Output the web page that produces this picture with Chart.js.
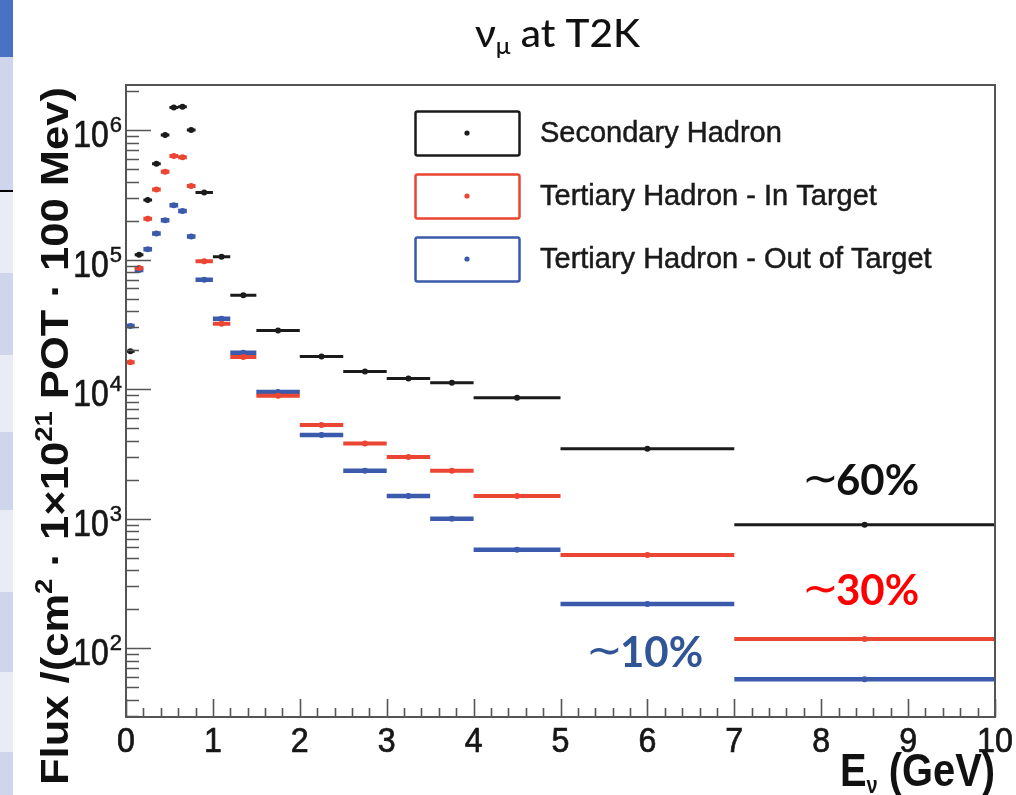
<!DOCTYPE html>
<html>
<head>
<meta charset="utf-8">
<script src="https://cdn.jsdelivr.net/npm/chart.js@4.4.1/dist/chart.umd.min.js"></script>
<style>
html, body { margin:0; padding:0; background:#fff; }
#wrap { position:relative; width:1016px; height:795px; }
</style>
</head>
<body>
<div id="wrap"><canvas id="flux" width="1016" height="795"></canvas></div>
<script>
// energy bins (GeV)
var binLo = [0, 0.1, 0.2, 0.3, 0.4, 0.5, 0.6, 0.7, 0.8, 1.0, 1.2, 1.5, 2.0, 2.5, 3.0, 3.5, 4.0, 5.0, 7.0];
var binHi = [0.1, 0.2, 0.3, 0.4, 0.5, 0.6, 0.7, 0.8, 1.0, 1.2, 1.5, 2.0, 2.5, 3.0, 3.5, 4.0, 5.0, 7.0, 10.0];

// flux per bin
var secondary   = [1.96e4, 1.09e5, 2.88e5, 5.5e5, 9.15e5, 1.49e6, 1.51e6, 1.0e6, 3.3e5, 1.05e5, 5.3e4, 2.84e4, 1.79e4, 1.37e4, 1.21e4, 1.12e4, 8.6e3, 3.47e3, 898];
var tertiaryIn  = [1.61e4, 8.6e4, 2.07e5, 3.48e5, 4.76e5, 6.3e5, 6.15e5, 3.69e5, 9.7e4, 3.2e4, 1.77e4, 8.9e3, 5.3e3, 3.8e3, 2.99e3, 2.35e3, 1.5e3, 526, 118];
var tertiaryOut = [3.07e4, 8.3e4, 1.2e5, 1.59e5, 2.01e5, 2.63e5, 2.37e5, 1.51e5, 7.0e4, 3.5e4, 1.91e4, 9.5e3, 4.43e3, 2.35e3, 1.5e3, 1.0e3, 575, 220, 57.8];

var seriesNames = ['Secondary Hadron', 'Tertiary Hadron - In Target', 'Tertiary Hadron - Out of Target'];
var xTickLabels = [0, 1, 2, 3, 4, 5, 6, 7, 8, 9, 10];
var yDecades = [2, 3, 4, 5, 6];
var notes = ['\u223c60%', '\u223c30%', '\u223c10%'];

var colBlack = '#1b1b1b', colRed = '#ea4633', colBlue = '#3b5aab';
var SANS = 'Arial, "Liberation Sans", Helvetica, sans-serif';

function segments(vals) {
    var out = [];
    for (var i = 0; i < vals.length; i++) {
        out.push({x: binLo[i], y: vals[i]}, {x: binHi[i], y: vals[i]}, {x: binHi[i], y: null});
    }
    return out;
}
function centers(vals) {
    return vals.map(function(v, i){ return {x: (binLo[i] + binHi[i]) / 2, y: v}; });
}
function barSet(vals, col, w) {
    return {data: segments(vals), showLine: true, borderColor: col, borderWidth: w,
            pointRadius: 0, borderCapStyle: 'butt', spanGaps: false};
}
function dotSet(vals, col) {
    return {data: centers(vals), showLine: false, pointRadius: 3, pointBorderWidth: 0,
            backgroundColor: col, borderColor: col};
}

// text drawn a touch heavier, like the original raster
function heavyText(ctx, t, x, y, lw) {
    ctx.fillText(t, x, y);
    ctx.lineWidth = lw;
    ctx.strokeStyle = ctx.fillStyle;
    ctx.strokeText(t, x, y);
}

// draws with parts that can be superscript/subscript, squeezed to a width
function richText(ctx, parts, size, weight, family, targetW) {
    var w = 0;
    parts.forEach(function(p){
        ctx.font = weight + ' ' + Math.round(size * (p.s || 1)) + 'px ' + family;
        p.w = ctx.measureText(p.t).width; w += p.w;
    });
    var sx = targetW ? targetW / w : 1;
    ctx.scale(sx, 1);
    var x = 0;
    parts.forEach(function(p){
        ctx.font = weight + ' ' + Math.round(size * (p.s || 1)) + 'px ' + family;
        ctx.fillText(p.t, x, p.dy || 0);
        x += p.w;
    });
    return w * sx;
}

var decor = {
    id: 'decor',
    beforeDraw: function(chart) {
        var ctx = chart.ctx;
        ctx.save();
        // slide table strip on the left edge
        var rows = [[0, 57, '#4a72c4'], [57, 190, '#cfd5ea'], [190, 273, '#e9ebf5'], [273, 355, '#cfd5ea'],
                    [355, 432, '#e9ebf5'], [432, 510, '#cfd5ea'], [510, 592, '#e9ebf5'], [592, 672, '#cfd5ea'],
                    [672, 752, '#e9ebf5'], [752, 795, '#cfd5ea']];
        rows.forEach(function(r){ ctx.fillStyle = r[2]; ctx.fillRect(0, r[0], 13, r[1] - r[0]); });
        ctx.fillStyle = '#000';
        ctx.fillRect(0, 190, 13, 2);
        ctx.restore();
    },
    afterDatasetsDraw: function(chart) {
        var ctx = chart.ctx, a = chart.chartArea, xs = chart.scales.x, ys = chart.scales.y;
        ctx.save();
        ctx.strokeStyle = '#555';
        ctx.lineWidth = 2;
        ctx.strokeRect(a.left, a.top, a.right - a.left, a.bottom - a.top);

        // y ticks
        ctx.lineWidth = 1.6;
        ctx.beginPath();
        for (var d = 1; d <= 6; d++) {
            for (var m = 1; m <= 9; m++) {
                var v = m * Math.pow(10, d);
                if (v < ys.min || v > ys.max) continue;
                var y = Math.round(ys.getPixelForValue(v)) + 0.5;
                ctx.moveTo(a.left, y); ctx.lineTo(a.left + (m === 1 ? 25 : 13), y);
            }
        }
        // x ticks
        for (var k = 0; k <= 50; k++) {
            var x = Math.round(xs.getPixelForValue(k * 0.2)) + 0.5;
            ctx.moveTo(x, a.bottom); ctx.lineTo(x, a.bottom - (k % 5 === 0 ? 18 : 9));
        }
        ctx.stroke();

        // tick labels
        ctx.fillStyle = '#161616';
        ctx.textBaseline = 'alphabetic';
        xTickLabels.forEach(function(t){
            ctx.save();
            ctx.font = '35px ' + SANS;
            var w = ctx.measureText(String(t)).width * 0.92;
            ctx.translate(xs.getPixelForValue(t) - w / 2, a.bottom + 35);
            ctx.scale(0.92, 1);
            heavyText(ctx, String(t), 0, 0, 0.7);
            ctx.restore();
        });
        yDecades.forEach(function(dd){
            var y = ys.getPixelForValue(Math.pow(10, dd));
            ctx.save();
            ctx.font = '37px ' + SANS;
            var w1 = ctx.measureText('10').width * 0.86;
            ctx.font = '22px ' + SANS;
            var w2 = ctx.measureText(String(dd)).width;
            ctx.translate(122 - w2 - w1 - 1, y + 17);
            ctx.save(); ctx.scale(0.86, 1);
            ctx.font = '37px ' + SANS;
            heavyText(ctx, '10', 0, 0, 0.7);
            ctx.restore();
            ctx.font = '22px ' + SANS;
            heavyText(ctx, String(dd), w1 + 1, -15, 0.5);
            ctx.restore();
        });

        // axis titles
        ctx.save();
        ctx.fillStyle = '#111';
        ctx.translate(68, 785);
        ctx.rotate(-Math.PI / 2);
        richText(ctx, [
            {t: 'Flux /(cm'}, {t: '2', s: 0.62, dy: -16}, {t: ' \u00b7 1\u00d710'},
            {t: '21', s: 0.62, dy: -16}, {t: ' POT \u00b7 100 Mev)'}
        ], 38, 'bold', SANS, 698);
        ctx.restore();

        ctx.save();
        ctx.fillStyle = '#111';
        var parts = [{t: 'E'}, {t: '\u03bd', s: 0.5, dy: 7}, {t: ' (GeV)'}];
        ctx.translate(840, 786);
        richText(ctx, parts, 46, 'bold', SANS, 155);
        ctx.restore();

        // title
        ctx.save();
        ctx.fillStyle = '#111';
        ctx.translate(475, 47);
        richText(ctx, [{t: '\u03bd', s: 1}, {t: '\u03bc', s: 0.6, dy: 7}, {t: ' at T2K'}], 38, '500', 'Lato, "Open Sans", sans-serif', 165);
        ctx.restore();

        // legend
        var cols = [colBlack, colRed, colBlue];
        var boxTop = [111, 174, 237];
        seriesNames.forEach(function(name, i){
            ctx.save();
            ctx.strokeStyle = cols[i];
            ctx.lineWidth = 2.5;
            ctx.beginPath();
            ctx.roundRect(415.5, boxTop[i] + 0.5, 104, 44, 2);
            ctx.stroke();
            ctx.fillStyle = cols[i];
            ctx.beginPath();
            ctx.arc(467, boxTop[i] + 22, 2.6, 0, Math.PI * 2);
            ctx.fill();
            ctx.fillStyle = '#1a1a1a';
            ctx.font = '29px ' + SANS;
            heavyText(ctx, name, 540, boxTop[i] + 31, 0.5);
            ctx.restore();
        });

        // percentage notes
        var noteCol = ['#111111', '#ff0000', '#2f5597'];
        var noteX = [803, 803, 587];
        var noteY = [495, 605, 667];
        notes.forEach(function(n, i){
            ctx.save();
            ctx.fillStyle = noteCol[i];
            ctx.font = '44px "DejaVu Sans", sans-serif';
            ctx.fillText(n.charAt(0), noteX[i] - 1, noteY[i] - 2);
            ctx.font = 'bold 42px Lato, "Open Sans", sans-serif';
            ctx.fillText(n.slice(1), noteX[i] + 33, noteY[i]);
            ctx.restore();
        });
        ctx.restore();
    }
};

var chart = new Chart(document.getElementById('flux'), {
    type: 'scatter',
    data: {
        datasets: [
            barSet(secondary, colBlack, 3),
            dotSet(secondary, colBlack),
            barSet(tertiaryIn, colRed, 4),
            dotSet(tertiaryIn, colRed),
            barSet(tertiaryOut, colBlue, 4.5),
            dotSet(tertiaryOut, colBlue)
        ]
    },
    options: {
        responsive: false,
        animation: false,
        layout: {padding: {left: 126, right: 21, top: 85, bottom: 78}},
        plugins: {legend: {display: false}, tooltip: {enabled: false}},
        scales: {
            x: {type: 'linear', min: 0, max: 10, display: false},
            y: {type: 'logarithmic', min: 29.5, max: 2.225e6, display: false}
        }
    },
    plugins: [decor]
});
</script>
</body>
</html>
